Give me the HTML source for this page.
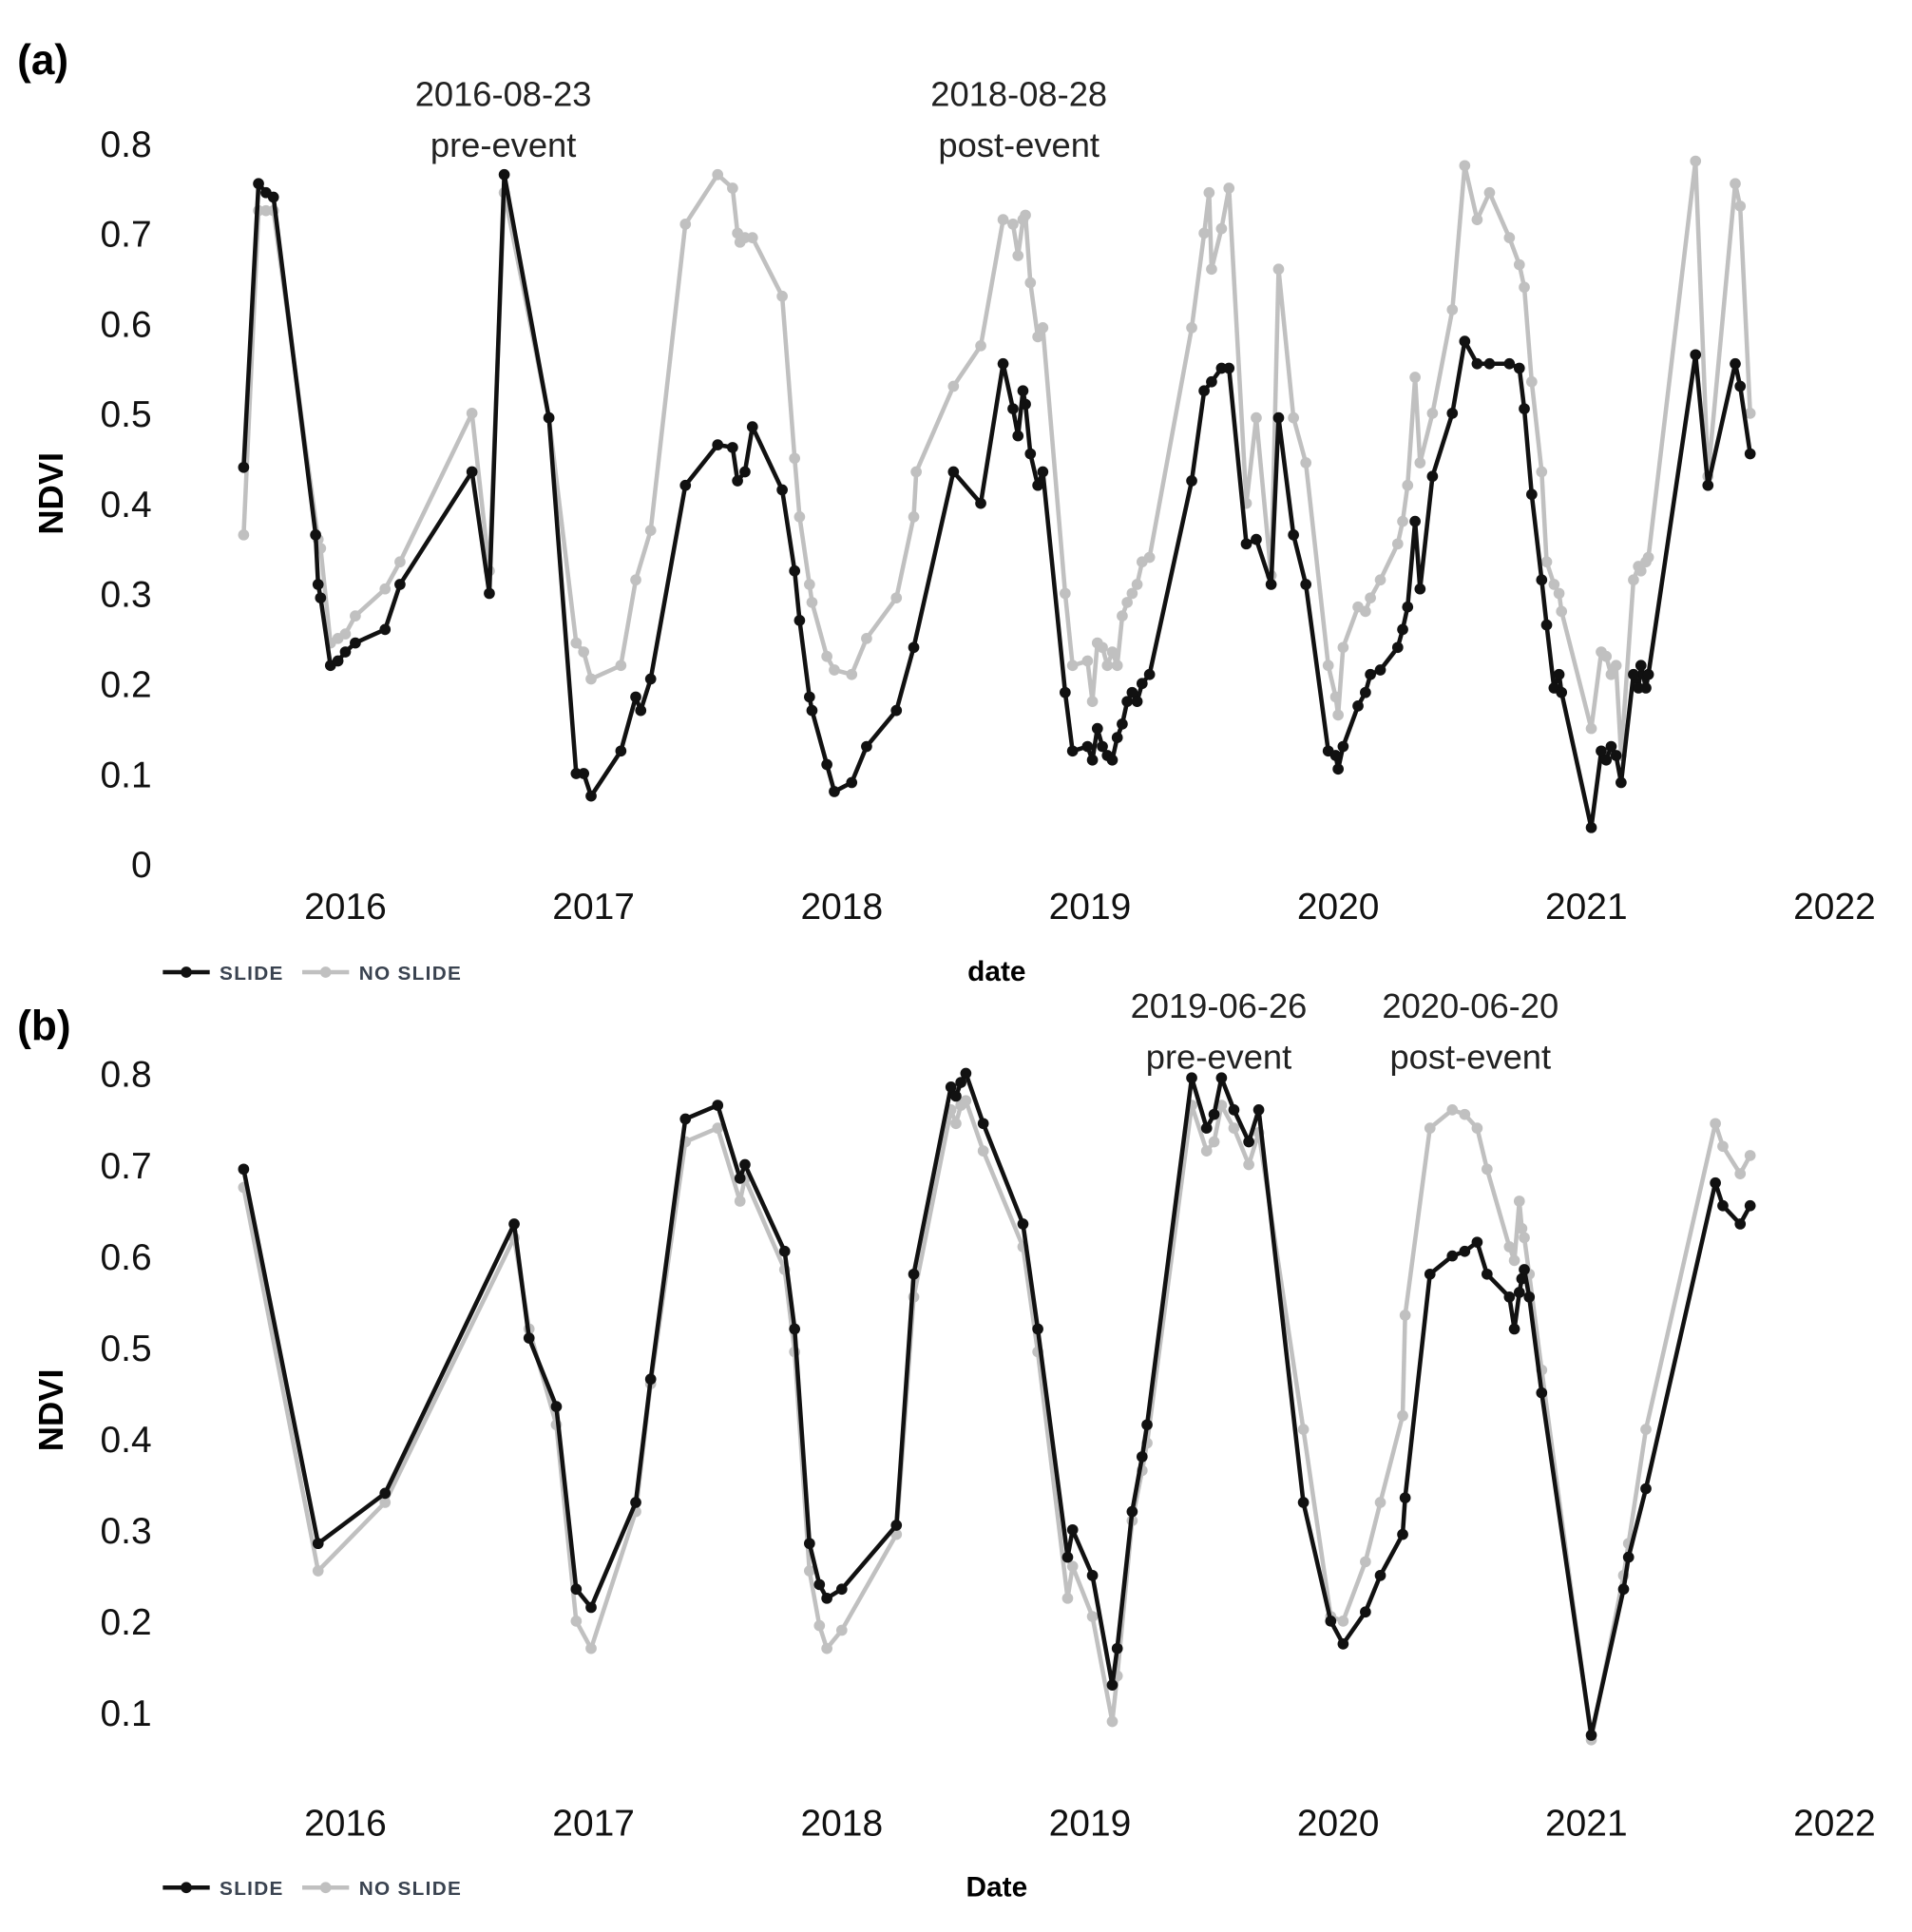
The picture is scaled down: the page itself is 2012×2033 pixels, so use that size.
<!DOCTYPE html>
<html><head><meta charset="utf-8"><style>
html,body{margin:0;padding:0;background:#fff}
svg{display:block}
text{font-family:"Liberation Sans","DejaVu Sans",sans-serif}
</style></head><body>
<svg id="chart" width="2012" height="2033" viewBox="0 0 1550 1566" preserveAspectRatio="none" xmlns="http://www.w3.org/2000/svg">
<g id="root"></g>
</svg>
<script>
// ---- Panel (a) data ----
const datesA = [2015.59,2015.65,2015.68,2015.71,2015.88,2015.89,2015.90,2015.94,2015.97,2016.00,2016.04,2016.16,2016.22,2016.51,2016.58,2016.64,2016.82,2016.93,2016.96,2016.99,2017.11,2017.17,2017.19,2017.23,2017.37,2017.50,2017.56,2017.58,2017.59,2017.61,2017.64,2017.76,2017.81,2017.83,2017.87,2017.88,2017.94,2017.97,2018.04,2018.10,2018.22,2018.29,2018.30,2018.45,2018.56,2018.65,2018.69,2018.71,2018.73,2018.74,2018.76,2018.79,2018.81,2018.90,2018.93,2018.99,2019.01,2019.03,2019.05,2019.07,2019.09,2019.11,2019.13,2019.15,2019.17,2019.19,2019.21,2019.24,2019.41,2019.46,2019.48,2019.49,2019.53,2019.56,2019.63,2019.67,2019.73,2019.76,2019.82,2019.87,2019.96,2019.99,2020.00,2020.02,2020.08,2020.11,2020.13,2020.17,2020.24,2020.26,2020.28,2020.31,2020.33,2020.38,2020.46,2020.51,2020.56,2020.61,2020.69,2020.73,2020.75,2020.78,2020.82,2020.84,2020.87,2020.89,2020.90,2021.02,2021.06,2021.08,2021.10,2021.12,2021.14,2021.19,2021.21,2021.22,2021.24,2021.25,2021.44,2021.49,2021.60,2021.62,2021.66];
const slideA = [.44,.755,.745,.74,.365,.31,.295,.22,.225,.235,.245,.26,.31,.435,.30,.765,.495,.10,.10,.075,.125,.185,.17,.205,.42,.465,.462,.425,null,.435,.485,.415,.325,.27,.185,.17,.11,.08,.09,.13,.17,.24,null,.435,.40,.555,.505,.475,.525,.51,.455,.42,.435,.19,.125,.13,.115,.15,.13,.12,.115,.14,.155,.18,.19,.18,.20,.21,.425,.525,null,.535,.55,.55,.355,.36,.31,.495,.365,.31,.125,.12,.105,.13,.175,.19,.21,.215,.24,.26,.285,.38,.305,.43,.50,.58,.555,.555,.555,.55,.505,.41,.315,.265,.195,.21,.19,.04,.125,.115,.13,.12,.09,.21,.195,.22,.195,.21,.565,.42,.555,.53,.455];
const noSlideA = [.365,.725,.725,.725,null,.36,.35,.245,.25,.255,.275,.305,.335,.50,.325,.745,.495,.245,.235,.205,.22,.315,null,.37,.71,.765,.75,.70,.69,.695,.695,.63,.45,.385,.31,.29,.23,.215,.21,.25,.295,.385,.435,.53,.575,.715,.71,.675,.715,.72,.645,.585,.595,.30,.22,.225,.18,.245,.24,.22,.235,.22,.275,.29,.30,.31,.335,.34,.595,.70,.745,.66,.705,.75,.40,.495,.32,.66,.495,.445,.22,.185,.165,.24,.285,.28,.295,.315,.355,.38,.42,.54,.445,.50,.615,.775,.715,.745,.695,.665,.64,.535,.435,.335,.31,.30,.28,.15,.235,.23,.21,.22,.12,.315,.33,.325,.335,.34,.78,.43,.755,.73,.50];
const ticksA = [0,0.1,0.2,0.3,0.4,0.5,0.6,0.7,0.8];
// ---- Panel (b) data ----
const datesB = [2015.59,2015.89,2016.16,2016.68,2016.74,2016.85,2016.93,2016.99,2017.17,2017.23,2017.37,2017.50,2017.59,2017.61,2017.77,2017.81,2017.87,2017.91,2017.94,2018.00,2018.22,2018.29,2018.44,2018.46,2018.48,2018.50,2018.57,2018.73,2018.79,2018.91,2018.93,2019.01,2019.09,2019.11,2019.17,2019.21,2019.23,2019.41,2019.47,2019.50,2019.53,2019.58,2019.64,2019.68,2019.86,2019.97,2020.02,2020.11,2020.17,2020.26,2020.27,2020.37,2020.46,2020.51,2020.56,2020.60,2020.69,2020.71,2020.73,2020.74,2020.75,2020.77,2020.82,2021.02,2021.15,2021.17,2021.24,2021.52,2021.55,2021.62,2021.66];
const slideB = [.695,.285,.34,.635,.51,.435,.235,.215,.33,.465,.75,.765,.685,.70,.605,.52,.285,.24,.225,.235,.305,.58,.785,.775,.79,.80,.745,.635,.52,.27,.30,.25,.13,.17,.32,.38,.415,.795,.74,.755,.795,.76,.725,.76,.33,.20,.175,.21,.25,.295,.335,.58,.60,.605,.615,.58,.555,.52,.56,.575,.585,.555,.45,.075,.235,.27,.345,.68,.655,.635,.655];
const noSlideB = [.675,.255,.33,.62,.52,.415,.20,.17,.32,.46,.725,.74,.66,.685,.585,.495,.255,.195,.17,.19,.295,.555,.76,.745,.765,.77,.715,.61,.495,.225,.26,.205,.09,.14,.31,.365,.395,.765,.715,.725,.765,.74,.70,.735,.41,.205,.20,.265,.33,.425,.535,.74,.76,.755,.74,.695,.61,.595,.66,.63,.62,.58,.475,.07,.25,.285,.41,.745,.72,.69,.71];
const ticksB = [0.1,0.2,0.3,0.4,0.5,0.6,0.7,0.8];
const years = [2016,2017,2018,2019,2020,2021,2022];

const NS = "http://www.w3.org/2000/svg";
const root = document.getElementById('root');
function mk(tag, attrs, parent, txt){
  const e = document.createElementNS(NS, tag);
  for (const k in attrs) e.setAttribute(k, attrs[k]);
  if (txt !== undefined) e.textContent = txt;
  (parent||root).appendChild(e);
  return e;
}
const xScale = y => 280 + (y - 2016) * 201.2;

function panel(p){
  const g = mk('g', {});
  
  
  const yS = v => p.y0 - v * p.k;
  const lab = mk('text', {x:14, y:p.labY, 'font-size':34, 'font-weight':'bold'}, g, p.label);
  
  
  p.ticks.forEach(t => {
    const e = mk('text', {x:123, y:yS(t)+11, 'font-size':30, 'text-anchor':'end', fill:'#111'}, g, t===0?'0':t.toFixed(1));
    
    
  });
  years.forEach(yr => {
    const e = mk('text', {x:xScale(yr), y:p.xLabY, 'font-size':30, 'text-anchor':'middle', fill:'#111'}, g, String(yr));
    
    
  });
  const yt = mk('text', {x:0, y:0, 'font-size':28, 'font-weight':'bold', 'text-anchor':'middle', transform:`translate(51 ${p.yTitleY}) rotate(-90)`}, g, 'NDVI');
  
  
  const xt = mk('text', {x:808, y:p.xTitleY, 'font-size':23, 'font-weight':'bold', 'text-anchor':'middle'}, g, p.xTitle);
  
  
  p.ann.forEach(a => {
    const t1 = mk('text', {x:a[0], y:p.annY, 'font-size':28, 'text-anchor':'middle', fill:'#222'}, g, a[1]);
    
    
    const t2 = mk('text', {x:a[0], y:p.annY+41, 'font-size':28, 'text-anchor':'middle', fill:'#222'}, g, a[2]);
    
    
  });
  const lg = mk('g', {}, g);
  
  
  [[132,'#111','SLIDE'],[245,'#c0c0c0','NO SLIDE']].forEach(l => {
    const e = mk('g', {}, lg);
    
    
    mk('line', {x1:l[0], x2:l[0]+38, y1:p.legY, y2:p.legY, stroke:l[1], 'stroke-width':3.5}, e);
    mk('circle', {cx:l[0]+19, cy:p.legY, r:4.5, fill:l[1]}, e);
    mk('text', {x:l[0]+46, y:p.legY+6, 'font-size':16, 'font-weight':'bold', 'letter-spacing':1, fill:'#3a4350'}, e, l[2]);
  });
  function series(vals, color, name){
    const sg = mk('g', {}, g);
    
    
    const pts = [];
    p.dates.forEach((d,i) => { if (vals[i] !== null && vals[i] !== undefined) pts.push([xScale(d), yS(vals[i])]); });
    const line = mk('polyline', {points: pts.map(q=>q[0].toFixed(1)+','+q[1].toFixed(1)).join(' '), fill:'none', stroke:color, 'stroke-width':3.5, 'stroke-linejoin':'round'}, sg);
    
    
    pts.forEach(q => {
      const c = mk('circle', {cx:q[0], cy:q[1], r:4.5, fill:color}, sg);
      
      
    });
  }
  series(p.gray, '#c0c0c0', 'no-slide-series');
  series(p.black, '#111111', 'slide-series');
}

panel({name:'panel-a', label:'(a)', labY:60, y0:700, k:730, ticks:ticksA, dates:datesA, black:slideA, gray:noSlideA,
  xLabY:745, yTitleY:400, xTitle:'date', xTitleY:795, legY:788, annY:86,
  ann:[[408,'2016-08-23','pre-event'],[826,'2018-08-28','post-event']]});
panel({name:'panel-b', label:'(b)', labY:843, y0:1462, k:740, ticks:ticksB, dates:datesB, black:slideB, gray:noSlideB,
  xLabY:1488, yTitleY:1143, xTitle:'Date', xTitleY:1537, legY:1530, annY:825,
  ann:[[988,'2019-06-26','pre-event'],[1192,'2020-06-20','post-event']]});
</script>
</body></html>
